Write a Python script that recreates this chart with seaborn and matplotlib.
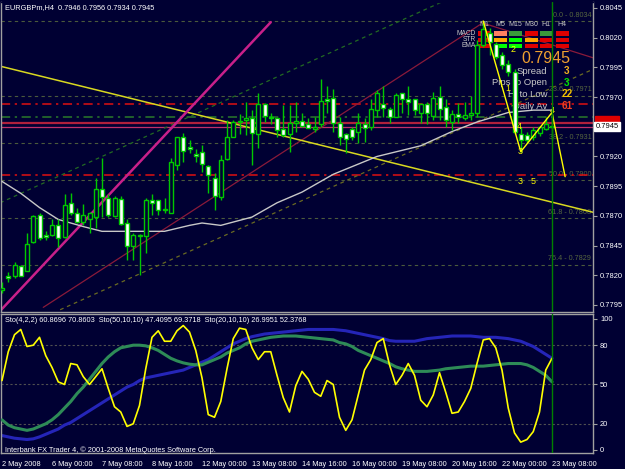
import numpy as np
import pandas as pd
import seaborn as sns
import matplotlib.pyplot as plt
from matplotlib.patches import Rectangle
from matplotlib.transforms import blended_transform_factory

# Grafico H4 EURGBPm estilo MetaTrader: velas + estocasticos

# ---------------- datos ----------------
opens = [0.7808, 0.7819, 0.7819, 0.7828, 0.7824, 0.7848, 0.7871, 0.7854, 0.7854, 0.7862,
         0.7852, 0.7881, 0.7872, 0.7865, 0.7867, 0.7869, 0.7893, 0.7885, 0.7870, 0.7884,
         0.7864, 0.7845, 0.7853, 0.7853, 0.7883, 0.7883, 0.7875, 0.7872, 0.7913, 0.7936,
         0.7928, 0.7922, 0.7924, 0.7912, 0.7902, 0.7886, 0.7918, 0.7936, 0.7949, 0.7951,
         0.7952, 0.7939, 0.7964, 0.7953, 0.7952, 0.7943, 0.7939, 0.7948, 0.7950, 0.7947,
         0.7943, 0.7947, 0.7968, 0.7969, 0.7948, 0.7939, 0.7943, 0.7941, 0.7947, 0.7945,
         0.7959, 0.7964, 0.7960, 0.7953, 0.7973, 0.7968, 0.7968, 0.7957, 0.7964, 0.7954,
         0.7970, 0.7962, 0.7949, 0.7956, 0.7952, 0.7955, 0.7957, 0.8014, 0.8024, 0.8015,
         0.8005, 0.7998, 0.7991, 0.7939, 0.7938, 0.7936, 0.7940, 0.7943, 0.7946]
highs = [0.7814, 0.7823, 0.7831, 0.7829, 0.7856, 0.7871, 0.7872, 0.7857, 0.7867, 0.7867,
         0.7888, 0.7889, 0.7877, 0.7880, 0.7873, 0.7902, 0.7919, 0.7888, 0.7887, 0.7887,
         0.7867, 0.7856, 0.7855, 0.7885, 0.7888, 0.7883, 0.7885, 0.7919, 0.7936, 0.7940,
         0.7934, 0.7926, 0.7930, 0.7913, 0.7906, 0.7921, 0.7951, 0.7951, 0.7956, 0.7966,
         0.7959, 0.7973, 0.7965, 0.7957, 0.7952, 0.7963, 0.7963, 0.7966, 0.7957, 0.7952,
         0.7953, 0.7985, 0.7979, 0.7977, 0.7953, 0.7940, 0.7945, 0.7957, 0.7952, 0.7968,
         0.7976, 0.7979, 0.7962, 0.7973, 0.7973, 0.7979, 0.7968, 0.7965, 0.7966, 0.7974,
         0.7979, 0.7968, 0.7959, 0.7965, 0.7966, 0.7971, 0.8018, 0.8034, 0.8028, 0.8016,
         0.8008, 0.8001, 0.7994, 0.7945, 0.7941, 0.7945, 0.7945, 0.7953, 0.7956]
lows = [0.7805, 0.7814, 0.7818, 0.7819, 0.7824, 0.7847, 0.7850, 0.7850, 0.7853, 0.7844,
        0.7851, 0.7871, 0.7864, 0.7862, 0.7856, 0.7860, 0.7869, 0.7869, 0.7869, 0.7862,
        0.7833, 0.7833, 0.7820, 0.7839, 0.7871, 0.7871, 0.7872, 0.7872, 0.7909, 0.7915,
        0.7923, 0.7915, 0.7907, 0.7889, 0.7875, 0.7883, 0.7917, 0.7936, 0.7939, 0.7938,
        0.7913, 0.7927, 0.7949, 0.7947, 0.7936, 0.7936, 0.7924, 0.7941, 0.7945, 0.7944,
        0.7941, 0.7945, 0.7957, 0.7941, 0.7930, 0.7923, 0.7934, 0.7931, 0.7932, 0.7942,
        0.7953, 0.7953, 0.7948, 0.7953, 0.7957, 0.7955, 0.7955, 0.7948, 0.7947, 0.7951,
        0.7951, 0.7945, 0.7942, 0.7948, 0.7951, 0.7951, 0.7953, 0.8012, 0.8005, 0.8002,
        0.7994, 0.7988, 0.7939, 0.7924, 0.7931, 0.7934, 0.7937, 0.7942, 0.7934]
closes = [0.7809, 0.7818, 0.7829, 0.7819, 0.7846, 0.7870, 0.7851, 0.7852, 0.7862, 0.7851,
          0.7879, 0.7872, 0.7865, 0.7871, 0.7872, 0.7893, 0.7886, 0.7871, 0.7885, 0.7863,
          0.7845, 0.7854, 0.7854, 0.7883, 0.7881, 0.7875, 0.7876, 0.7915, 0.7936, 0.7925,
          0.7926, 0.7920, 0.7914, 0.7904, 0.7887, 0.7917, 0.7936, 0.7949, 0.7950, 0.7952,
          0.7940, 0.7964, 0.7954, 0.7952, 0.7942, 0.7938, 0.7948, 0.7950, 0.7946, 0.7944,
          0.7945, 0.7967, 0.7967, 0.7948, 0.7936, 0.7935, 0.7936, 0.7948, 0.7944, 0.7960,
          0.7973, 0.7961, 0.7953, 0.7972, 0.7968, 0.7966, 0.7959, 0.7964, 0.7957, 0.7969,
          0.7960, 0.7951, 0.7956, 0.7953, 0.7955, 0.7957, 0.8014, 0.8027, 0.8016, 0.8004,
          0.7997, 0.7991, 0.7941, 0.7934, 0.7934, 0.7942, 0.7945, 0.7947, 0.7945]

sto_fast = [53, 75, 88, 92, 79, 80, 86, 72, 63, 52,
            50, 66, 65, 56, 50, 56, 62, 47, 33, 29,
            18, 20, 34, 62, 86, 91, 83, 83, 91, 95,
            90, 76, 55, 27, 25, 37, 62, 85, 93, 92,
            78, 69, 75, 75, 57, 40, 29, 49, 60, 54,
            44, 41, 53, 50, 25, 15, 23, 42, 61, 69,
            82, 85, 65, 50, 57, 66, 57, 38, 33, 42,
            59, 44, 28, 29, 37, 47, 66, 84, 85, 78,
            61, 32, 13, 6, 8, 14, 29, 61, 70]
sto_50 = [11, 10, 9, 8.5, 8, 8.5, 10, 12, 14, 16,
          19, 21, 24, 27, 30, 33, 36, 39, 42, 45,
          48, 50, 53, 55, 56, 57, 58, 59, 60, 61,
          63, 65, 67, 69, 72, 75, 78, 81, 83, 85,
          86.5, 87.5, 88.5, 89, 89.5, 90, 90.5, 91, 91.5, 92,
          92, 92, 92, 92, 91.5, 91, 90, 89, 88, 87,
          86, 85, 83.5, 83, 83, 83, 83, 84, 85, 85.5,
          86, 86.5, 87, 87, 87, 87, 86.5, 86, 86, 86,
          85.5, 85, 84, 83, 81, 79, 76, 73, 70]
sto_20 = [23, 19, 17, 16, 15, 16, 18, 20, 23, 27,
          32, 37, 43, 48, 54, 60, 66, 71, 75, 78,
          79, 80, 80, 79.5, 78, 76, 73, 70, 68, 66.5,
          65.5, 65, 65, 67, 69, 71, 74, 76, 78, 81,
          83, 84, 85, 86, 86.5, 87, 87, 87, 86.5, 86,
          85.5, 85, 84.5, 84, 82, 81, 79, 76, 74, 72,
          70, 68, 66, 63.5, 62, 61, 60, 60, 60, 60.5,
          61, 62, 62.5, 63, 63.5, 64, 64, 64, 64.5, 65,
          65.5, 66, 66, 66, 65, 63, 60, 57, 52]

ma_bars = [0, 3, 6, 9, 13, 16, 21, 26, 30, 32, 35, 40, 44, 48, 51, 53, 60, 67, 72, 76, 81, 85, 88]
ma_prices = [0.7899, 0.7889, 0.7877, 0.7867, 0.7861, 0.7857, 0.7857, 0.7857, 0.7862, 0.7864,
             0.7862, 0.7869, 0.7881, 0.7890, 0.7899, 0.7905, 0.7920, 0.7929, 0.7941, 0.7949,
             0.7957, 0.7959, 0.7959]

date_labels = ['2 May 2008', '6 May 00:00', '7 May 08:00', '8 May 16:00', '12 May 00:00',
               '13 May 08:00', '14 May 16:00', '16 May 00:00', '19 May 08:00', '20 May 16:00',
               '22 May 00:00', '23 May 08:00']

fib_levels = [0.0, 23.6, 38.2, 50.0, 61.8, 76.4]
fib_prices = [0.8034, 0.7971, 0.7931, 0.7900, 0.7868, 0.7829]
red_levels = [0.7964, 0.7904]
green_level = 0.7953
ask_price = 0.7948

# lineas de tendencia (barra, precio)
yellow_trend = ([-0.3, 94.6], [0.7996, 0.7873])
magenta_trend = ([-0.3, 43.0], [0.7790, 0.8033])
maroon_trend1 = ([6.6, 76.5], [0.7793, 0.8031])
maroon_trend2 = ([76.5, 94.6], [0.8033, 0.8003])
green_channel = ([-0.3, 71.2], [0.7881, 0.8052])
olive_channel = ([9.3, 94.4], [0.7791, 0.7993])
wave_bars = [77, 83, 88, 90.1]
wave_prices = [0.8034, 0.7924, 0.7957, 0.7903]
wave_labels = ['2', '1', '4', '3', '4', '3', '5']
wave_label_bars = [81.8, 80.9, 82.8, 82.9, 88.0, 82.9, 85.0]
wave_label_prices = [0.8010, 0.7977, 0.7945, 0.7924, 0.7959, 0.7899, 0.7899]

tf_cols = ['M1', 'M5', 'M15', 'M30', 'H1', 'H4']
tf_rows = ['MACD', 'STR', 'EMA']
macd_colors = ['#e00000', '#ff8060', '#3a9a3a', '#e00000', '#3a9a3a', '#e00000']
str_colors = ['#e00000', '#ffa500', '#00ff00', '#ffa500', '#e00000', '#e00000']
ema_colors = ['#e00000', '#00ff00', '#00ff00', '#e00000', '#e00000', '#e00000']

info_labels = ['Spread', 'Pips to Open', 'Hi to Low', 'Daily Av']
info_values = ['3', '3', '22', '61']
info_colors = ['#f0b020', '#00e000', '#f0c000', '#f04020']

# ---------------- figura ----------------
BG = '#000033'
GREEN = '#00c800'
W, H = 625, 469

sns.set_style('dark', {'axes.facecolor': BG, 'figure.facecolor': BG})
plt.rcParams['font.family'] = ['Liberation Sans', 'DejaVu Sans']


def fx(x):
    return x / W


def fy(y):
    return 1 - y / H


fig = plt.figure(figsize=(W / 100, H / 100), dpi=100, facecolor=BG)
ax = fig.add_axes([fx(1), fy(312), 592 / W, 310 / H])
ax2 = fig.add_axes([fx(1), fy(453), 592 / W, 139 / H])

for a in (ax, ax2):
    a.set_facecolor(BG)
    a.set_xlim(-0.16, 94.56)
    for s in a.spines.values():
        s.set_color('#a0a0a0')
        s.set_linewidth(1)
    a.yaxis.tick_right()
    a.tick_params(axis='y', colors='#a0a0a0', labelcolor='white', labelsize=5.4,
                  length=3, width=0.8, pad=2)
ax.spines['top'].set_color(BG)

# ---- panel principal ----
ax.set_ylim(0.77891, 0.80500)
ax.set_xticks([])
price_ticks = [0.8045, 0.8020, 0.7995, 0.7970, 0.7945, 0.7920, 0.7895, 0.7870, 0.7845, 0.7820, 0.7795]
ax.set_yticks(price_ticks)
ax.set_yticklabels(['' if abs(t - closes[-1]) < 1e-6 else f'{t:.4f}' for t in price_ticks])

for lvl, p in zip(fib_levels, fib_prices):
    ax.axhline(p, color='#4b5a3c', lw=0.8, ls=(0, (3, 3)), zorder=1)
    ax.text(94.3, p + 0.0002, f'{lvl:.1f} - {p:.4f}', ha='right', va='bottom',
            color='#56663f', fontsize=5.2, zorder=1)
for p in red_levels:
    ax.axhline(p, color='#e01010', lw=1.1, ls=(0, (6, 3, 1.5, 3)), zorder=1)
ax.axhline(green_level, color='#2a7a2a', lw=1.1, ls=(0, (6, 3, 1.5, 3)), zorder=1)
ax.axhline(ask_price, color='#b0203c', lw=1.6, zorder=2)
ax.axhline(closes[-1], color='#c0306a', lw=0.9, zorder=2)

ax.plot(*green_channel, color='#226a22', lw=0.9, ls=(0, (3, 3)), zorder=2)
ax.plot(*olive_channel, color='#6a6a22', lw=0.9, ls=(0, (3, 3)), zorder=2)
ax.plot(*maroon_trend1, color='#8a1a3a', lw=0.9, zorder=2)
ax.plot(*maroon_trend2, color='#8a1a3a', lw=0.9, zorder=2)
ax.plot(*yellow_trend, color='#d8d820', lw=1.1, zorder=2)
ax.plot(*magenta_trend, color='#c8208a', lw=1.8, zorder=2)

sns.lineplot(x=ma_bars, y=ma_prices, color='#c8c8c8', lw=1, ax=ax, zorder=3)

# velas
bars = np.arange(len(opens))
cdf = pd.DataFrame({'bar': bars, 'open': opens, 'high': highs, 'low': lows, 'close': closes})
ax.vlines(cdf['bar'], cdf['low'], cdf['high'], color=GREEN, lw=1, zorder=4)
body_lo = cdf[['open', 'close']].min(axis=1)
body_hi = cdf[['open', 'close']].max(axis=1)
doji = (body_hi - body_lo) < 0.00006
up = cdf['close'] > cdf['open']
ax.bar(cdf['bar'][~doji], (body_hi - body_lo)[~doji], bottom=body_lo[~doji], width=0.64,
       color=np.where(up[~doji], BG, 'white'), edgecolor=GREEN, lw=1.0, zorder=5)
ax.hlines(cdf['open'][doji], cdf['bar'][doji] - 0.34, cdf['bar'][doji] + 0.34,
          color=GREEN, lw=1.1, zorder=5)

ax.plot(wave_bars, wave_prices, color='#ffff00', lw=1, zorder=6)
for t, b, p in zip(wave_labels, wave_label_bars, wave_label_prices):
    ax.text(b, p, t, color='#ffff00', fontsize=6.5, ha='center', va='center', zorder=6)

ax.axvline(88, color='#008000', lw=1, zorder=6)

# caja de precio actual
trans = blended_transform_factory(ax.transAxes, ax.transData)
ax.text(1.004, 0.79503, '0.7948', transform=trans, ha='left', va='center', fontsize=5.2,
        color='#e00000', clip_on=False, zorder=7,
        bbox=dict(boxstyle='square,pad=0.12', fc='#e00000', ec='#e00000'))
ax.text(1.004, closes[-1], f'{closes[-1]:.4f}', transform=trans, ha='left', va='center',
        fontsize=5.4, color='black', clip_on=False, zorder=8,
        bbox=dict(boxstyle='square,pad=0.15', fc='white', ec='white'))

# textos superpuestos
ax.text(fx(5), fy(8), f'EURGBPm,H4  {opens[-1]:.4f} {highs[-1]:.4f} {lows[-1]:.4f} {closes[-1]:.4f}',
        transform=fig.transFigure, color='white', fontsize=5.3, va='center', ha='left', zorder=8)

col_x = [484, 500, 515, 531, 546, 562]
row_y = [31.5, 37.7, 43.7]
for cx, name in zip(col_x, tf_cols):
    ax.text(fx(cx), fy(25), name, transform=fig.transFigure, color='#c8c8c8', fontsize=5,
            ha='center', va='center', zorder=3)
for ry, name, cols in zip(row_y, tf_rows, [macd_colors, str_colors, ema_colors]):
    ax.text(fx(476), fy(ry + 2.2), name, transform=fig.transFigure, color='#c8c8c8',
            fontsize=4.8, ha='right', va='center', zorder=3)
    for cx, c in zip(col_x, cols):
        ax.add_patch(Rectangle((fx(cx - 6.5), fy(ry + 4.5)), 13 / W, 4.5 / H,
                               transform=fig.transFigure, facecolor=c, edgecolor='none',
                               zorder=3, clip_on=False))

ax.text(fx(546), fy(58.5), f'{closes[-1]:.4f}', transform=fig.transFigure, color='#f0a030',
        fontsize=11.5, ha='center', va='center', zorder=3)
for k, (lab, val, col) in enumerate(zip(info_labels, info_values, info_colors)):
    yy = 71 + k * 11.7
    ax.text(fx(547), fy(yy), lab, transform=fig.transFigure, color='#c8c8c8', fontsize=6.8,
            ha='right', va='center', zorder=3)
    ax.text(fx(567), fy(yy), val, transform=fig.transFigure, color=col, fontsize=7.2,
            fontweight='bold', ha='center', va='center', zorder=3)

# ---- panel estocastico ----
ax2.set_ylim(-2.3, 103.8)
ax2.set_yticks([0, 20, 50, 80, 100])
ax2.set_yticklabels(['0', '20', '50', '80', '100'])
for lv in (20, 50, 80):
    ax2.axhline(lv, color='#505050', lw=0.8, ls=(0, (2, 2)), zorder=1)

sdf = pd.DataFrame({'bar': bars, 'fast': sto_fast, 'slow50': sto_50, 'slow20': sto_20})
sns.lineplot(data=sdf, x='bar', y='slow50', color='#2525b8', lw=2.2, ax=ax2, zorder=2)
sns.lineplot(data=sdf, x='bar', y='slow20', color='#2e8b57', lw=2.2, ax=ax2, zorder=3)
sns.lineplot(data=sdf, x='bar', y='fast', color='#ffff00', lw=1.2, ax=ax2, zorder=4)
ax2.axvline(88, color='#008000', lw=1, zorder=5)
ax2.set_xlim(-0.16, 94.56)
ax2.set_xlabel('')
ax2.set_ylabel('')

ax2.set_xticks(np.arange(0, len(opens), 8))
ax2.set_xticklabels(date_labels, ha='left')
ax2.tick_params(axis='x', colors='#a0a0a0', labelcolor='white', labelsize=5.3,
                length=4, width=0.8, pad=1.5)

ax2.text(fx(5), fy(320), 'Sto(4,2,2) 60.8696 70.8603  Sto(50,10,10) 47.4095 69.3718  '
         'Sto(20,10,10) 26.9951 52.3768', transform=fig.transFigure, color='white',
         fontsize=5.3, ha='left', va='center', zorder=6)
ax2.text(fx(5), fy(450), 'Interbank FX Trader 4, \u00a9 2001-2008 MetaQuotes Software Corp.',
         transform=fig.transFigure, color='white', fontsize=5.3, ha='left', va='center', zorder=6)

fig.savefig('out.png', dpi=100, facecolor=BG)
